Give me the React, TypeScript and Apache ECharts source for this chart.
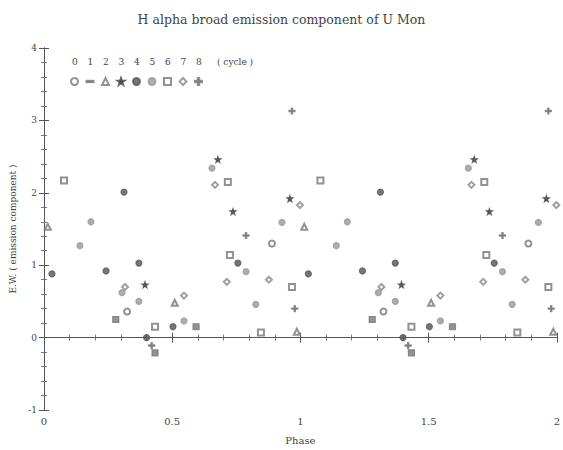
import React, { useEffect, useRef } from "react";
import * as echarts from "echarts";

// Phase (0-1) and E.W. of the broad emission component, per cycle
const cycleNames = ["0", "1", "2", "3", "4", "5", "6", "7", "8"];
const cycle0 = [[0.324, 0.36], [0.889, 1.30]];
const cycle1 = [[0.28, 0.25], [0.433, -0.21], [0.593, 0.15]];
const cycle2 = [[0.015, 1.53], [0.51, 0.48], [0.986, 0.08]];
const cycle3 = [[0.394, 0.73], [0.678, 2.46], [0.737, 1.74], [0.959, 1.92]];
const cycle4 = [[0.031, 0.88], [0.242, 0.92], [0.312, 2.01], [0.37, 1.03], [0.40, 0.0], [0.503, 0.15], [0.756, 1.03]];
const cycle5 = [[0.14, 1.27], [0.183, 1.60], [0.304, 0.62], [0.37, 0.50], [0.546, 0.23], [0.655, 2.34], [0.788, 0.91], [0.826, 0.46], [0.928, 1.59]];
const cycle6 = [[0.078, 2.17], [0.433, 0.15], [0.717, 2.15], [0.725, 1.14], [0.846, 0.07], [0.967, 0.70]];
const cycle7 = [[0.316, 0.70], [0.546, 0.58], [0.667, 2.11], [0.713, 0.77], [0.877, 0.80], [0.998, 1.83]];
const cycle8 = [[0.42, -0.11], [0.788, 1.41], [0.967, 3.13], [0.978, 0.40]];
const cycleData = [cycle0, cycle1, cycle2, cycle3, cycle4, cycle5, cycle6, cycle7, cycle8];

const xTicks = [0, 0.5, 1, 1.5, 2];
const yTicks = [-1, 0, 1, 2, 3, 4];

const STAR = "path://M5,0 L6.2,3.6 L10,3.6 L7,5.9 L8.1,9.6 L5,7.3 L1.9,9.6 L3,5.9 L0,3.6 L3.8,3.6 Z";
const DASH = "path://M0,4 L10,4 L10,6 L0,6 Z";
const CROSS = "path://M4,0 L6,0 L6,4 L10,4 L10,6 L6,6 L6,10 L4,10 L4,6 L0,6 L0,4 L4,4 Z";
const symbols = ["emptyCircle", DASH, "emptyTriangle", STAR, "circle", "circle", "emptyRect", "emptyDiamond", CROSS];
const colors = ["#777", "#777", "#777", "#444", "#555", "#999", "#777", "#888", "#777"];

const FONT = "DejaVu Serif";

export default function App() {
  const ref = useRef<HTMLDivElement>(null);
  useEffect(() => {
    if (!ref.current) return;
    const chart = echarts.init(ref.current, undefined, { renderer: "svg" });
    const series = cycleNames.map((name, i) => ({
      name,
      type: "scatter",
      symbol: symbols[i],
      symbolSize: 6,
      itemStyle: { color: colors[i], borderColor: colors[i], borderWidth: 1.2 },
      data: cycleData[i].flatMap(([p, v]) => [[p, v], [p + 1, v]]),
    }));
    const legendX0 = 72;
    const legendStep = 15.5;
    const graphic: any[] = cycleNames.map((n, i) => ({
      type: "text",
      left: legendX0 + i * legendStep,
      top: 57,
      style: { text: n, font: `9px ${FONT}`, fill: "#444" },
    }));
    graphic.push({
      type: "text",
      left: 217,
      top: 57,
      style: { text: "( cycle )", font: `9px ${FONT}`, fill: "#444" },
    });
    const axisCommon = {
      min: 0,
      max: 2,
      interval: 0.5,
      axisLine: { lineStyle: { color: "#555", width: 1 } },
      axisTick: { inside: true, length: 5, lineStyle: { color: "#555" } },
      minorTick: { show: true, splitNumber: 5, length: 3, lineStyle: { color: "#777" } },
      splitLine: { show: false },
    };
    const yCommon = {
      min: -1,
      max: 4,
      interval: 1,
      axisLine: { show: true, lineStyle: { color: "#555", width: 1 } },
      axisTick: { show: true, inside: true, length: 5, lineStyle: { color: "#555" } },
      minorTick: { show: true, splitNumber: 5, length: 3, lineStyle: { color: "#777" } },
      splitLine: { show: false },
    };
    chart.setOption({
      animation: false,
      backgroundColor: "#fff",
      title: {
        text: "H alpha broad emission component of U Mon",
        left: "center",
        top: 8,
        textStyle: { fontFamily: FONT, fontSize: 12.5, fontWeight: "normal", color: "#444" },
      },
      grid: { left: 44, right: 5, top: 48, bottom: 39 },
      legend: {
        data: cycleNames,
        left: 65,
        top: 72,
        itemWidth: 7,
        itemHeight: 7,
        itemGap: 6.5,
        formatter: () => "",
        textStyle: { fontSize: 1 },
        selectedMode: false,
      },
      graphic,
      xAxis: [
        {
          type: "value",
          ...axisCommon,
          name: "Phase",
          nameLocation: "middle",
          nameGap: 25,
          nameTextStyle: { fontFamily: FONT, fontSize: 10, color: "#444" },
          axisLabel: {
            fontFamily: FONT,
            fontSize: 10,
            color: "#444",
            margin: 6,
            formatter: (v: number) => (xTicks.includes(v) ? String(v) : ""),
          },
        },
        {
          type: "value",
          position: "top",
          ...axisCommon,
          axisLabel: { show: false },
        },
      ],
      yAxis: [
        {
          type: "value",
          ...yCommon,
          name: "E.W. ( emission component )",
          nameLocation: "middle",
          nameGap: 27,
          nameTextStyle: { fontFamily: FONT, fontSize: 9, color: "#444" },
          axisLabel: {
            fontFamily: FONT,
            fontSize: 9,
            color: "#444",
            margin: 7,
            formatter: (v: number) => (yTicks.includes(v) ? String(v) : ""),
          },
        },
        {
          type: "value",
          position: "right",
          ...yCommon,
          axisLabel: { show: false },
        },
      ],
      series,
    });
    return () => chart.dispose();
  }, []);
  return (
    <div
      ref={ref}
      style={{ position: "fixed", left: 0, top: 0, width: 563, height: 450, background: "#fff" }}
    />
  );
}
